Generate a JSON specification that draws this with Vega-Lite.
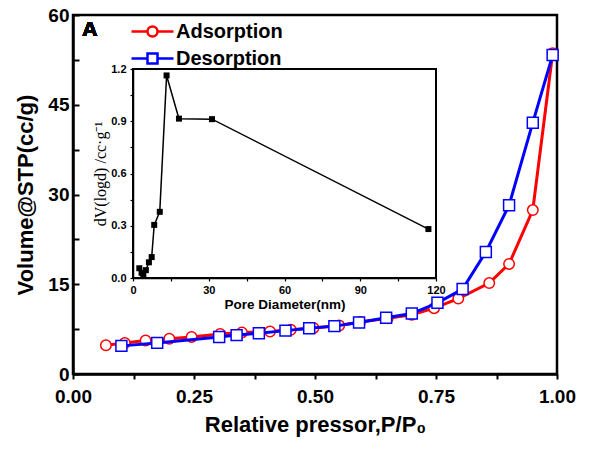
{
  "$schema": "https://vega.github.io/schema/vega-lite/v6.json",
  "width": 484,
  "height": 359,
  "autosize": {"type": "none"},
  "padding": {"left": 73, "top": 15, "right": 43, "bottom": 77},
  "background": "white",
  "config": {
    "view": {"stroke": "black", "strokeWidth": 2.5},
    "font": "Liberation Sans"
  },
  "datasets": {
    "iso": [
      {"series": "Adsorption", "p": 0.068, "v": 4.8},
      {"series": "Adsorption", "p": 0.107, "v": 5.2},
      {"series": "Adsorption", "p": 0.150, "v": 5.6},
      {"series": "Adsorption", "p": 0.199, "v": 5.9},
      {"series": "Adsorption", "p": 0.245, "v": 6.2},
      {"series": "Adsorption", "p": 0.304, "v": 6.7},
      {"series": "Adsorption", "p": 0.349, "v": 6.95},
      {"series": "Adsorption", "p": 0.407, "v": 7.1},
      {"series": "Adsorption", "p": 0.450, "v": 7.4},
      {"series": "Adsorption", "p": 0.497, "v": 7.7},
      {"series": "Adsorption", "p": 0.550, "v": 8.1},
      {"series": "Adsorption", "p": 0.593, "v": 8.7},
      {"series": "Adsorption", "p": 0.650, "v": 9.3},
      {"series": "Adsorption", "p": 0.700, "v": 9.9},
      {"series": "Adsorption", "p": 0.746, "v": 11.0},
      {"series": "Adsorption", "p": 0.796, "v": 12.6},
      {"series": "Adsorption", "p": 0.860, "v": 15.2},
      {"series": "Adsorption", "p": 0.901, "v": 18.4},
      {"series": "Adsorption", "p": 0.950, "v": 27.4},
      {"series": "Adsorption", "p": 0.991, "v": 53.6},
      {"series": "Desorption", "p": 0.100, "v": 4.7},
      {"series": "Desorption", "p": 0.174, "v": 5.2},
      {"series": "Desorption", "p": 0.302, "v": 6.2},
      {"series": "Desorption", "p": 0.338, "v": 6.5},
      {"series": "Desorption", "p": 0.384, "v": 6.8},
      {"series": "Desorption", "p": 0.439, "v": 7.25},
      {"series": "Desorption", "p": 0.488, "v": 7.65},
      {"series": "Desorption", "p": 0.540, "v": 8.0},
      {"series": "Desorption", "p": 0.591, "v": 8.6},
      {"series": "Desorption", "p": 0.647, "v": 9.4},
      {"series": "Desorption", "p": 0.700, "v": 10.1},
      {"series": "Desorption", "p": 0.753, "v": 11.9},
      {"series": "Desorption", "p": 0.805, "v": 14.2},
      {"series": "Desorption", "p": 0.853, "v": 20.4},
      {"series": "Desorption", "p": 0.901, "v": 28.2},
      {"series": "Desorption", "p": 0.950, "v": 42.0},
      {"series": "Desorption", "p": 0.991, "v": 53.3}
    ],
    "psd": [
      {"d": 2.5, "dv": 0.056},
      {"d": 3.4, "dv": 0.03},
      {"d": 4.1, "dv": 0.02},
      {"d": 5.1, "dv": 0.045},
      {"d": 6.3, "dv": 0.09},
      {"d": 7.4, "dv": 0.12},
      {"d": 8.4, "dv": 0.305},
      {"d": 10.6, "dv": 0.38},
      {"d": 13.3, "dv": 1.163},
      {"d": 18.2, "dv": 0.915},
      {"d": 31.3, "dv": 0.912},
      {"d": 117.0, "dv": 0.281}
    ]
  },
  "layer": [
    {
      "data": {"name": "iso"},
      "encoding": {
        "x": {
          "field": "p", "type": "quantitative",
          "scale": {"domain": [0, 1], "nice": false},
          "axis": {
            "orient": "bottom",
            "title": "Relative pressor,P/P₀",
            "values": [0, 0.125, 0.25, 0.375, 0.5, 0.625, 0.75, 0.875, 1],
            "format": ".2f",
            "labelExpr": "indexof([0,0.25,0.5,0.75,1], datum.value) >= 0 ? datum.label : ''",
            "grid": false,
            "domainColor": "black", "domainWidth": 2.5,
            "tickColor": "black", "tickWidth": 2, "tickSize": 5,
            "labelFont": "Liberation Sans", "labelFontWeight": "bold", "labelFontSize": 19, "labelColor": "black",
            "labelPadding": 8, "labelFlush": false,
            "titleFont": "Liberation Sans", "titleFontWeight": "bold", "titleFontSize": 22, "titleColor": "black",
            "titlePadding": 8
          }
        },
        "y": {
          "field": "v", "type": "quantitative",
          "scale": {"domain": [0, 60], "nice": false},
          "axis": {
            "orient": "left",
            "title": "Volume@STP(cc/g)",
            "values": [0, 7.5, 15, 22.5, 30, 37.5, 45, 52.5, 60],
            "labelExpr": "datum.value % 15 === 0 ? datum.label : ''",
            "grid": false,
            "domainColor": "black", "domainWidth": 2.5,
            "tickColor": "black", "tickWidth": 2, "tickSize": -6,
            "labelFont": "Liberation Sans", "labelFontWeight": "bold", "labelFontSize": 19, "labelColor": "black",
            "labelPadding": 10, "labelFlush": false,
            "titleFont": "Liberation Sans", "titleFontWeight": "bold", "titleFontSize": 22, "titleColor": "black",
            "titlePadding": 10
          }
        }
      },
      "layer": [
        {
          "transform": [{"filter": "datum.series === 'Adsorption'"}],
          "mark": {"type": "line", "strokeWidth": 3},
          "encoding": {
            "color": {
              "field": "series", "type": "nominal",
              "scale": {"domain": ["Adsorption", "Desorption"], "range": ["#ff0000", "#0000ff"]},
              "legend": {
                "title": null,
                "orient": "none",
                "legendX": 68,
                "legendY": 5,
                "padding": 0,
                "symbolSize": 400,
                "symbolStrokeWidth": 2.5,
                "labelOffset": 12,
                "rowPadding": 5,
                "labelFont": "Liberation Sans", "labelFontWeight": "bold", "labelFontSize": 20, "labelColor": "black",
                "encode": {
                  "symbols": {
                    "update": {
                      "shape": {"signal": "datum.value === 'Adsorption' ? 'M-2.1,0H-0.5M0.5,0H2.1M-0.5,0A0.5,0.5,0,1,0,0.5,0A0.5,0.5,0,1,0,-0.5,0Z' : 'M-2.1,0H-0.5M0.5,0H2.1M-0.5,-0.5H0.5V0.5H-0.5Z'"},
                      "fill": {"value": "white"},
                      "fillOpacity": {"value": 1},
                      "strokeWidth": {"value": 2.5}
                    }
                  }
                }
              }
            }
          }
        },
        {
          "transform": [{"filter": "datum.series === 'Adsorption'"}],
          "mark": {"type": "point", "shape": "circle", "filled": true, "fill": "white", "stroke": "#ff0000", "strokeWidth": 1.5, "size": 110, "opacity": 1}
        },
        {
          "transform": [{"filter": "datum.series === 'Desorption'"}],
          "mark": {"type": "line", "strokeWidth": 3},
          "encoding": {
            "color": {"field": "series", "type": "nominal"}
          }
        },
        {
          "transform": [{"filter": "datum.series === 'Desorption'"}],
          "mark": {"type": "point", "shape": "square", "filled": true, "fill": "white", "stroke": "#0000ff", "strokeWidth": 1.5, "size": 120, "opacity": 1}
        },
        {
          "mark": {"type": "text", "text": "A", "font": "Liberation Sans", "fontWeight": "bold", "fontSize": 21, "fill": "black", "strokeWidth": 0, "align": "center", "baseline": "middle"},
          "encoding": {
            "x": {"datum": 0.035},
            "y": {"datum": 57.5}
          }
        }
      ]
    },
    {
      "data": {"name": "psd"},
      "encoding": {
        "x": {
          "field": "d", "type": "quantitative",
          "scale": {"domain": [0, 120], "range": [60, 363], "nice": false, "zero": false},
          "axis": {
            "orient": "bottom",
            "offset": -96,
            "title": "Pore Diameter(nm)",
            "values": [0, 15, 30, 45, 60, 75, 90, 105, 120],
            "labelExpr": "datum.value % 30 === 0 ? datum.label : ''",
            "grid": false,
            "domainColor": "black", "domainWidth": 1.5,
            "tickColor": "black", "tickWidth": 1.2, "tickSize": 3,
            "labelFont": "Liberation Sans", "labelFontWeight": "bold", "labelFontSize": 11, "labelColor": "black",
            "labelPadding": 3, "labelFlush": false,
            "titleFont": "Liberation Sans", "titleFontWeight": "bold", "titleFontSize": 13.5, "titleColor": "black",
            "titlePadding": 2
          }
        },
        "y": {
          "field": "dv", "type": "quantitative",
          "scale": {"domain": [0, 1.2], "range": [263, 54], "nice": false, "zero": false},
          "axis": {
            "orient": "left",
            "offset": -60,
            "title": "dV(logd) /cc·g⁻¹",
            "values": [0, 0.15, 0.3, 0.45, 0.6, 0.75, 0.9, 1.05, 1.2],
            "format": ".1f",
            "labelExpr": "indexof([0,0.3,0.6,0.9,1.2], datum.value) >= 0 ? datum.label : ''",
            "grid": false,
            "domainColor": "black", "domainWidth": 1.5,
            "tickColor": "black", "tickWidth": 1.2, "tickSize": 3,
            "labelFont": "Liberation Sans", "labelFontWeight": "bold", "labelFontSize": 11, "labelColor": "black",
            "labelPadding": 4, "labelFlush": false,
            "titleFont": "Liberation Serif", "titleFontWeight": "normal", "titleFontSize": 16, "titleColor": "black",
            "titlePadding": 2
          }
        }
      },
      "layer": [
        {
          "mark": {"type": "rect", "fill": null, "fillOpacity": 0, "stroke": "black", "strokeWidth": 1.5},
          "encoding": {
            "x": {"datum": 0},
            "x2": {"datum": 120},
            "y": {"datum": 0},
            "y2": {"datum": 1.2}
          }
        },
        {
          "mark": {"type": "line", "color": "black", "strokeWidth": 1.5}
        },
        {
          "mark": {"type": "point", "shape": "square", "filled": true, "color": "black", "size": 36, "opacity": 1}
        }
      ]
    }
  ],
  "resolve": {
    "scale": {"x": "independent", "y": "independent", "color": "independent"},
    "axis": {"x": "independent", "y": "independent"}
  }
}
